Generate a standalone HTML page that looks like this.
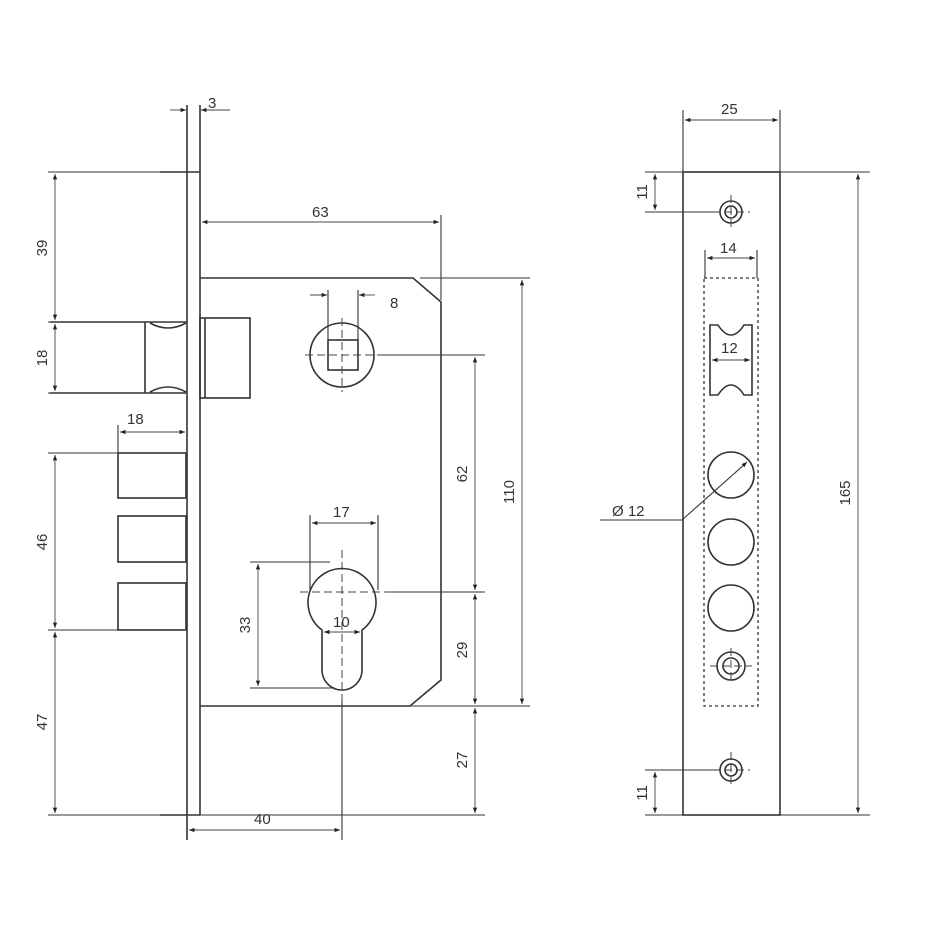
<!DOCTYPE html>
<html><head><meta charset="utf-8"><style>
html,body{margin:0;padding:0;background:#fff}
svg{display:block}
text{font-family:"Liberation Sans",sans-serif;font-size:15px;fill:#333}
</style></head><body>
<svg width="950" height="950" viewBox="0 0 950 950" xmlns="http://www.w3.org/2000/svg">
<defs>
<marker id="a" viewBox="0 0 10 10" refX="10" refY="5" markerWidth="8" markerHeight="6" orient="auto-start-reverse"><path d="M0,1 L10,5 L0,9 z" fill="#222"/></marker>
</defs>
<g fill="none" stroke="#333" stroke-width="1.6">
<line x1="187" y1="105" x2="187" y2="840"/>
<line x1="200" y1="105" x2="200" y2="815"/>
<line x1="160" y1="172" x2="200" y2="172"/>
<line x1="160" y1="815" x2="200" y2="815"/>
<polyline points="200,278 413,278 441,302 441,680 410,706 200,706"/>
<rect x="200" y="318" width="50" height="80"/>
<line x1="205" y1="318" x2="205" y2="398"/>
<path d="M50,322 H186 M50,393 H186 M145,322 V393"/>
<path d="M150,323 Q168,333 186,323 M150,392 Q168,382 186,392"/>
<rect x="118" y="453" width="68" height="45"/>
<rect x="118" y="516" width="68" height="46"/>
<rect x="118" y="583" width="68" height="47"/>
<circle cx="342" cy="355" r="32"/>
<rect x="328" y="340" width="30" height="30"/>
<path d="M322,630 A34,34 0 1 1 362,630 V670 A20,20 0 0 1 322,670 Z"/>
<rect x="683" y="172" width="97" height="643"/>
<circle cx="731" cy="212" r="11"/><circle cx="731" cy="212" r="6"/>
<circle cx="731" cy="770" r="11"/><circle cx="731" cy="770" r="6"/>
<circle cx="731" cy="666" r="14"/><circle cx="731" cy="666" r="8"/>
<circle cx="731" cy="475" r="23"/><circle cx="731" cy="542" r="23"/><circle cx="731" cy="608" r="23"/>
<path d="M710,325 H718 Q731,345 744,325 H752 V395 H744 Q731,375 718,395 H710 Z"/>
</g>
<g fill="none" stroke="#333" stroke-width="1.3" stroke-dasharray="3,3">
<rect x="704" y="278" width="54" height="428"/>
</g>
<g fill="none" stroke="#444" stroke-width="1" stroke-dasharray="8,4">
<line x1="342" y1="318" x2="342" y2="392"/>
<line x1="305" y1="355" x2="380" y2="355"/>
<line x1="342" y1="550" x2="342" y2="700"/>
<line x1="300" y1="592" x2="390" y2="592"/>
<line x1="731" y1="195" x2="731" y2="230"/><line x1="712" y1="212" x2="750" y2="212"/>
<line x1="731" y1="752" x2="731" y2="788"/><line x1="712" y1="770" x2="750" y2="770"/>
<line x1="731" y1="648" x2="731" y2="684"/><line x1="710" y1="666" x2="752" y2="666"/>
</g>
<g stroke="#333" stroke-width="1.1" fill="none">
<path d="M48,172 H187 M48,322 H187 M48,393 H187 M48,453 H187 M48,630 H187 M48,815 H187"/>
<path d="M441,215 V300 M420,278 H530 M380,355 H485 M390,592 H485 M200,706 H530 M200,815 H485"/>
<path d="M328,290 V340 M358,290 V340 M310,515 V590 M378,515 V590 M250,562 H330 M250,688 H335 M342,700 V840"/>
<path d="M118,425 V453 M683,110 V172 M780,110 V172 M705,250 V278 M757,250 V278"/>
<path d="M645,172 H683 M645,212 H720 M645,770 H720 M645,815 H683 M780,172 H870 M780,815 H870"/>
<path d="M600,520 H682 L746,463"/>
</g>
<g stroke="#444" stroke-width="0.9" fill="none" marker-start="url(#a)" marker-end="url(#a)">
<line x1="55" y1="174" x2="55" y2="320"/>
<line x1="55" y1="324" x2="55" y2="391"/>
<line x1="55" y1="455" x2="55" y2="628"/>
<line x1="55" y1="632" x2="55" y2="813"/>
<line x1="120" y1="432" x2="185" y2="432"/>
<line x1="202" y1="222" x2="439" y2="222"/>
<line x1="522" y1="280" x2="522" y2="704"/>
<line x1="475" y1="357" x2="475" y2="590"/>
<line x1="475" y1="594" x2="475" y2="704"/>
<line x1="475" y1="708" x2="475" y2="813"/>
<line x1="189" y1="830" x2="340" y2="830"/>
<line x1="258" y1="564" x2="258" y2="686"/>
<line x1="312" y1="523" x2="376" y2="523"/>
<line x1="324" y1="632" x2="360" y2="632"/>
<line x1="685" y1="120" x2="778" y2="120"/>
<line x1="707" y1="258" x2="755" y2="258"/>
<line x1="712" y1="360" x2="750" y2="360"/>
<line x1="655" y1="174" x2="655" y2="210"/>
<line x1="655" y1="772" x2="655" y2="813"/>
<line x1="858" y1="174" x2="858" y2="813"/>
</g>
<g stroke="#444" stroke-width="0.9" fill="none" marker-end="url(#a)">
<line x1="170" y1="110" x2="186" y2="110"/>
<line x1="230" y1="110" x2="201" y2="110"/>
<line x1="310" y1="295" x2="327" y2="295"/>
<line x1="375" y1="295" x2="359" y2="295"/>
<line x1="735" y1="473" x2="747" y2="462"/>
</g>
<text x="208" y="108">3</text>
<text x="312" y="217">63</text>
<text x="390" y="308">8</text>
<text x="127" y="424">18</text>
<text x="333" y="517">17</text>
<text x="333" y="627">10</text>
<text x="254" y="824">40</text>
<text x="721" y="114">25</text>
<text x="720" y="253">14</text>
<text x="721" y="353">12</text>
<text x="612" y="516">Ø 12</text>
<g>
<text transform="translate(47,248) rotate(-90)" text-anchor="middle">39</text>
<text transform="translate(47,358) rotate(-90)" text-anchor="middle">18</text>
<text transform="translate(47,542) rotate(-90)" text-anchor="middle">46</text>
<text transform="translate(47,722) rotate(-90)" text-anchor="middle">47</text>
<text transform="translate(250,625) rotate(-90)" text-anchor="middle">33</text>
<text transform="translate(467,474) rotate(-90)" text-anchor="middle">62</text>
<text transform="translate(467,650) rotate(-90)" text-anchor="middle">29</text>
<text transform="translate(467,760) rotate(-90)" text-anchor="middle">27</text>
<text transform="translate(514,492) rotate(-90)" text-anchor="middle">110</text>
<text transform="translate(647,192) rotate(-90)" text-anchor="middle">11</text>
<text transform="translate(647,793) rotate(-90)" text-anchor="middle">11</text>
<text transform="translate(850,493) rotate(-90)" text-anchor="middle">165</text>
</g>
</svg>
</body></html>
